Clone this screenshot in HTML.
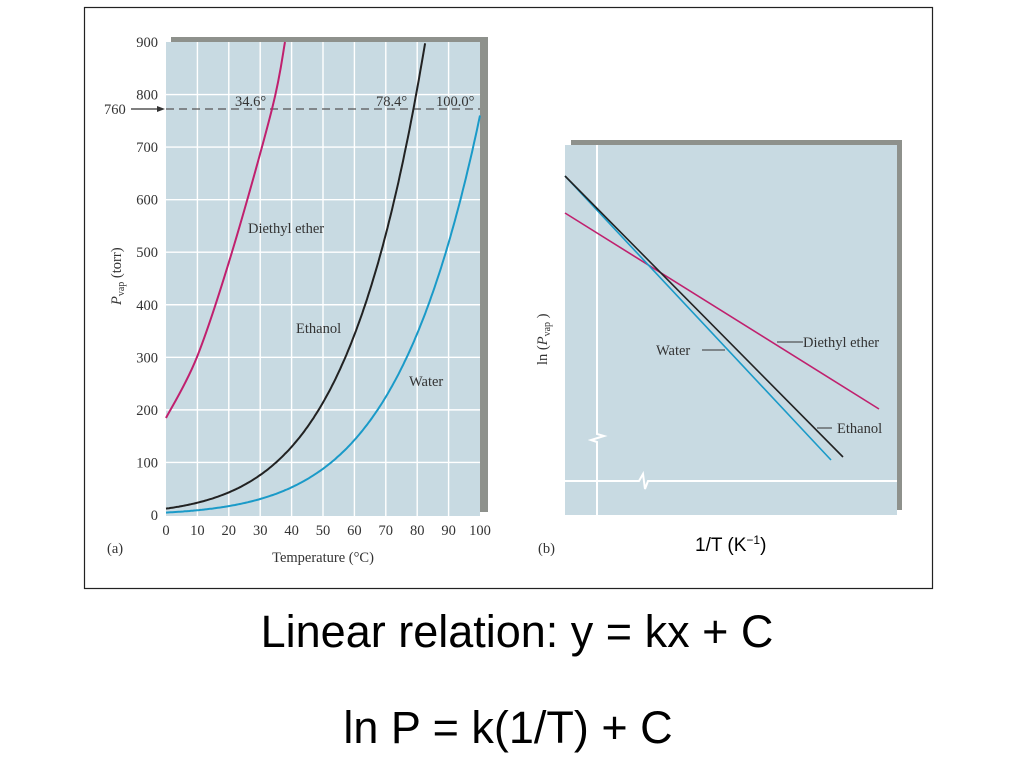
<!DOCTYPE html>
<html><head><meta charset="utf-8"><style>
html,body{margin:0;padding:0;background:#fff;width:1024px;height:768px;overflow:hidden}
svg{display:block}
.s{font-family:"Liberation Serif",serif;fill:#333}
</style></head><body>
<svg width="1024" height="768" viewBox="0 0 1024 768" xmlns="http://www.w3.org/2000/svg">
<rect x="84.5" y="7.5" width="848" height="581" fill="#fff" stroke="#222" stroke-width="1.2"/>
<rect x="171" y="37" width="317" height="475" fill="#8e918c"/>
<rect x="166" y="42" width="314" height="474" fill="#c8dae2"/>
<g stroke="#fff" stroke-width="1.4" id="grid"></g>
<line x1="131" y1="109" x2="160" y2="109" stroke="#333" stroke-width="1.2"/>
<polygon points="165,109 157,106 157,112" fill="#333"/>
<line x1="166" y1="109" x2="480" y2="109" stroke="#555" stroke-width="1.2" stroke-dasharray="8,5"/>
<path id="ether" fill="none" stroke="#c0206e" stroke-width="2"/>
<path id="ethanol" fill="none" stroke="#222" stroke-width="2"/>
<path id="water" fill="none" stroke="#1a9ac8" stroke-width="2"/>
<g class="s" font-size="14.5" text-anchor="end" id="ylab"></g>
<g class="s" font-size="14.5" text-anchor="middle" id="xlab"></g>
<text class="s" x="104" y="114" font-size="14.5">760</text>
<text class="s" x="235" y="106" font-size="14.5">34.6°</text>
<text class="s" x="376" y="106" font-size="14.5">78.4°</text>
<text class="s" x="436" y="106" font-size="14.5">100.0°</text>
<text class="s" x="248" y="233" font-size="14.5">Diethyl ether</text>
<text class="s" x="296" y="333" font-size="14.5">Ethanol</text>
<text class="s" x="409" y="386" font-size="14.5">Water</text>
<text class="s" x="107" y="553" font-size="14.5">(a)</text>
<text class="s" x="323" y="562" font-size="14.5" text-anchor="middle">Temperature (°C)</text>
<text class="s" font-size="14.5" transform="translate(121,305) rotate(-90)"><tspan font-style="italic">P</tspan><tspan font-size="10" dy="3">vap</tspan><tspan dy="-3"> (torr)</tspan></text>
<rect x="571" y="140" width="331" height="370" fill="#8e918c"/>
<rect x="565" y="145" width="332" height="370" fill="#c8dae2"/>
<path d="M597 145 V434 L604 436 L591 440 L597 442 V515" fill="none" stroke="#fff" stroke-width="2"/>
<path d="M565 481 H639 L643 474 L645 489 L648 481 H897" fill="none" stroke="#fff" stroke-width="2"/>
<line x1="565" y1="213" x2="879" y2="409" stroke="#c0206e" stroke-width="1.6"/>
<line x1="565" y1="176" x2="831" y2="460" stroke="#1a9ac8" stroke-width="1.6"/>
<line x1="565" y1="176" x2="843" y2="457" stroke="#222" stroke-width="1.6"/>
<line x1="777" y1="342" x2="803" y2="342" stroke="#333" stroke-width="1"/>
<line x1="702" y1="350" x2="725" y2="350" stroke="#333" stroke-width="1"/>
<line x1="817" y1="428" x2="832" y2="428" stroke="#333" stroke-width="1"/>
<text class="s" x="803" y="347" font-size="14.5">Diethyl ether</text>
<text class="s" x="656" y="355" font-size="14.5">Water</text>
<text class="s" x="837" y="433" font-size="14.5">Ethanol</text>
<text class="s" x="538" y="553" font-size="14.5">(b)</text>
<text class="s" font-size="14.5" transform="translate(547,365) rotate(-90)">ln (<tspan font-style="italic">P</tspan><tspan font-size="10" dy="3">vap</tspan><tspan dy="-3"> )</tspan></text>
<text x="695" y="551" font-family="Liberation Sans,sans-serif" font-size="19" fill="#000">1/T (K<tspan font-size="12" dy="-7">−1</tspan><tspan dy="7">)</tspan></text>
<text x="517" y="647" font-family="Liberation Sans,sans-serif" font-size="45" fill="#000" text-anchor="middle">Linear relation: y = kx + C</text>
<text x="508" y="743" font-family="Liberation Sans,sans-serif" font-size="45" fill="#000" text-anchor="middle">ln P = k(1/T) + C</text>
</svg>
<script>
var NS="http://www.w3.org/2000/svg";
function el(p,t,a,txt){var e=document.createElementNS(NS,t);for(var k in a)e.setAttribute(k,a[k]);if(txt!=null)e.textContent=txt;p.appendChild(e);}
var g=document.getElementById("grid"),yl=document.getElementById("ylab"),xl=document.getElementById("xlab");
for(var i=0;i<=10;i++){var x=166+i*31.4;if(i>0&&i<10)el(g,"line",{x1:x,y1:42,x2:x,y2:516});el(xl,"text",{x:x,y:535},String(i*10));}
for(var j=0;j<=9;j++){var y=515-j*52.56;if(j>0&&j<9)el(g,"line",{x1:166,y1:y,x2:480,y2:y});el(yl,"text",{x:158,y:y+5},String(j*100));}
function cr(p){var d="M"+p[0][0]+" "+p[0][1];for(var i=0;i<p.length-1;i++){var p0=p[Math.max(0,i-1)],p1=p[i],p2=p[i+1],p3=p[Math.min(p.length-1,i+2)];
d+=" C"+(p1[0]+(p2[0]-p0[0])/6)+" "+(p1[1]+(p2[1]-p0[1])/6)+" "+(p2[0]-(p3[0]-p1[0])/6)+" "+(p2[1]-(p3[1]-p1[1])/6)+" "+p2[0]+" "+p2[1];}return d;}
function cc(Tb,B,Tmax){var d="";for(var T=0;T<=Tmax+0.001;T+=0.5){var P=760*Math.exp(-B*(1/(T+273.15)-1/(Tb+273.15)));if(P>900)break;var x=166+T*3.14,y=515-P*0.5256;d+=(d?" L":"M")+x.toFixed(1)+" "+y.toFixed(1);}return d;}
document.getElementById("ether").setAttribute("d",cr([[166,418],[197,357],[232,252],[272,109],[285,42]]));
document.getElementById("ethanol").setAttribute("d",cc(78.4,5068,100));
document.getElementById("water").setAttribute("d",cc(100,5200,100));
</script>
</body></html>
